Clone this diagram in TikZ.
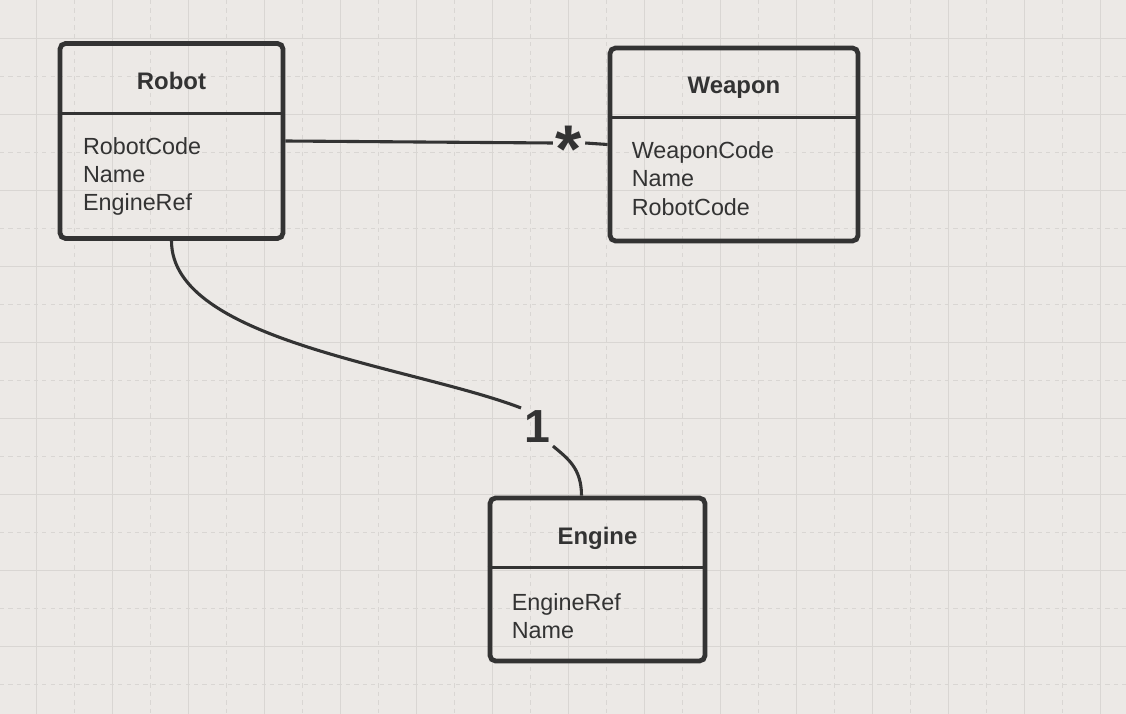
\documentclass[tikz,border=0pt]{standalone}
\usepackage{fontspec}
\setmainfont{Liberation Sans}
\usetikzlibrary{positioning}
\definecolor{paper}{HTML}{ECE9E6}
\definecolor{gridline}{HTML}{D9D6D3}
\definecolor{ink}{HTML}{333333}

\tikzset{
	umlbox/.style={draw=ink, line width=3.4pt, rounded corners=4pt},
	divider/.style={draw=ink, line width=2.2pt},
	classname/.style={text=ink, font=\fontsize{17}{20}\selectfont\bfseries},
	fields/.style={text=ink, align=left, inner sep=0pt, anchor=north west, font=\fontsize{16.6}{20}\selectfont},
	link/.style={draw=ink, line width=2.2pt},
	mult/.style={text=ink, inner sep=2pt, font=\fontsize{33}{33}\selectfont\bfseries}
}

\begin{document}
\begin{tikzpicture}[x=0.025cm, y=-0.025cm]
	\useasboundingbox[fill=paper] (0,0) rectangle (1126,714);
	% grid
	\foreach \gx in {36,112,...,1126} \draw[gridline, line width=0.7pt] (\gx,0) -- (\gx,714);
	\foreach \gx in {74,150,...,1126} \draw[gridline, line width=0.7pt, dashed] (\gx,0) -- (\gx,714);
	\foreach \gy in {38,114,...,714} \draw[gridline, line width=0.7pt] (0,\gy) -- (1126,\gy);
	\foreach \gy in {76,152,...,714} \draw[gridline, line width=0.7pt, dashed] (0,\gy) -- (1126,\gy);

	% classes
	\node (robot) at (171.5,141) [umlbox, minimum width=5.575cm, minimum height=4.875cm] {};
	\node (weapon) at (734,144.5) [umlbox, minimum width=6.2cm, minimum height=4.825cm] {};
	\node (engine) at (597.5,579.5) [umlbox, minimum width=5.375cm, minimum height=4.075cm] {};

	\draw[divider] ([yshift=-1.8cm]robot.north west) -- ([yshift=-1.8cm]robot.north east);
	\draw[divider] ([yshift=-1.8cm]weapon.north west) -- ([yshift=-1.8cm]weapon.north east);
	\draw[divider] ([yshift=-1.8cm]engine.north west) -- ([yshift=-1.8cm]engine.north east);

	\node (robotname) at ([yshift=-1.0cm]robot.north) [classname] {Robot};
	\node (weaponname) at ([yshift=-1.06cm]weapon.north) [classname] {Weapon};
	\node (enginename) at ([yshift=-1.08cm]engine.north) [classname] {Engine};

	\node (robotfields) [fields] at ([xshift=0.63cm, yshift=-2.4cm]robot.north west) {RobotCode\\Name\\EngineRef};
	\node (weaponfields) [fields] at ([xshift=0.6cm, yshift=-2.4cm]weapon.north west) {WeaponCode\\Name\\RobotCode};
	\node (enginefields) [fields] at ([xshift=0.6cm, yshift=-2.45cm]engine.north west) {EngineRef\\Name};

	% multiplicities
	\node (many) at (569,143) [mult, text height=0.12em, text depth=0.12em, font=\fontsize{48}{48}\selectfont\bfseries] {\raisebox{-0.44em}{*}};
	\node (one) at (537,427) [mult] {1};

	% associations
	\draw[link] (robot.east) -- (many.west);
	\draw[link] (many.east) -- (weapon.west);
	\draw[link] (robot.south) .. controls +(0,100) and +(-110,-42) .. (one.north west);
	\draw[link] (one.south east) .. controls +(14,12) and +(0,-28) .. ([xshift=-0.4cm]engine.north);
\end{tikzpicture}
\end{document}
